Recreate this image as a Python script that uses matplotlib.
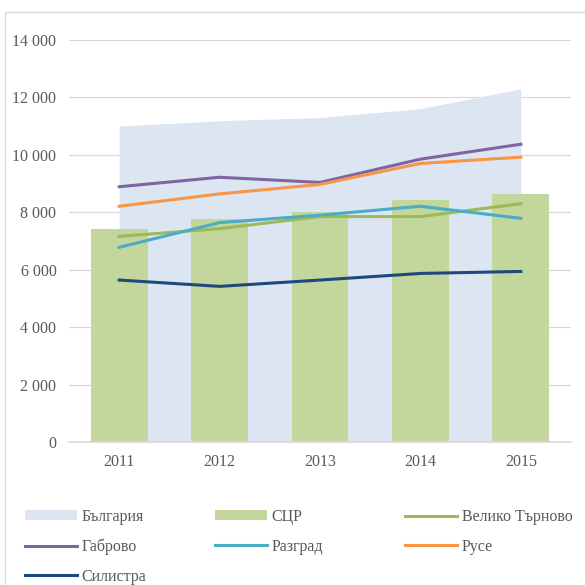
import matplotlib

matplotlib.use("Agg")

import matplotlib.pyplot as plt
from matplotlib.patches import Rectangle

years = ["2011", "2012", "2013", "2014", "2015"]
bulgaria = [11000, 11190, 11300, 11610, 12300]
scr = [7420, 7770, 8010, 8420, 8640]
veliko_tarnovo = [7160, 7430, 7850, 7850, 8300]
gabrovo = [8890, 9220, 9040, 9850, 10370]
razgrad = [6780, 7640, 7900, 8210, 7790]
ruse = [8210, 8640, 8970, 9700, 9920]
silistra = [5640, 5420, 5640, 5870, 5940]

plt.rcParams["font.family"] = ["Liberation Serif", "DejaVu Serif"]
TEXT = "#595959"

fig = plt.figure(figsize=(5.85, 5.85), dpi=100)
fig.patches.append(Rectangle((5 / 585, -0.1), 1.2, 1 - 12 / 585 + 0.1,
                             transform=fig.transFigure, fill=False,
                             edgecolor="#D9D9D9", linewidth=1.0))

ax = fig.add_axes([69 / 585, 1 - 442 / 585, 502 / 585, 402 / 585])
x = list(range(len(years)))

h_bg = ax.fill_between(x, 0, bulgaria, color="#DCE6F2", linewidth=0, zorder=1,
                       label="България")
h_scr = ax.bar(x, scr, width=0.565, color="#C3D69B", zorder=2, label="СЦР")

lw = 2.2
h_vt, = ax.plot(x, veliko_tarnovo, color="#9BBB59", lw=lw, zorder=3, label="Велико Търново")
h_gb, = ax.plot(x, gabrovo, color="#8064A2", lw=lw, zorder=3, label="Габрово")
h_rz, = ax.plot(x, razgrad, color="#4BACC6", lw=lw, zorder=3, label="Разград")
h_rs, = ax.plot(x, ruse, color="#F79646", lw=lw, zorder=3, label="Русе")
h_sl, = ax.plot(x, silistra, color="#1F497D", lw=lw, zorder=3, label="Силистра")

ax.set_xlim(-0.5, len(years) - 0.5)
ax.set_ylim(0, 14000)
ax.set_yticks(range(0, 14001, 2000))
ax.set_yticklabels([f"{v:,}".replace(",", " ") for v in range(0, 14001, 2000)])
ax.set_xticks(x)
ax.set_xticklabels(years)
ax.tick_params(length=0, labelsize=11.5, labelcolor=TEXT)
ax.tick_params(axis="y", pad=9)
ax.tick_params(axis="x", pad=9)
ax.yaxis.grid(True, color="#D9D9D9", linewidth=0.9, zorder=0)
ax.set_axisbelow(True)
for side in ("top", "right", "left"):
    ax.spines[side].set_visible(False)
ax.spines["bottom"].set_color("#D9D9D9")
ax.spines["bottom"].set_linewidth(1.2)
ax.spines["bottom"].set_zorder(4)

# legend laid out as three single-column legends
columns = [([h_bg, h_gb, h_sl], 25), ([h_scr, h_rz], 215), ([h_vt, h_rs], 405)]
for hs, x0 in columns:
    leg = fig.legend(hs, [h.get_label() for h in hs], ncol=1, loc="upper left",
                     bbox_to_anchor=(x0 / 585, 1 - 509 / 585), frameon=False,
                     fontsize=11.5, handlelength=3.25, handleheight=0.6,
                     handletextpad=0.3, labelspacing=0.85,
                     borderaxespad=0, borderpad=0)
    for t in leg.get_texts():
        t.set_color(TEXT)

fig.savefig("out.png", dpi=100)
